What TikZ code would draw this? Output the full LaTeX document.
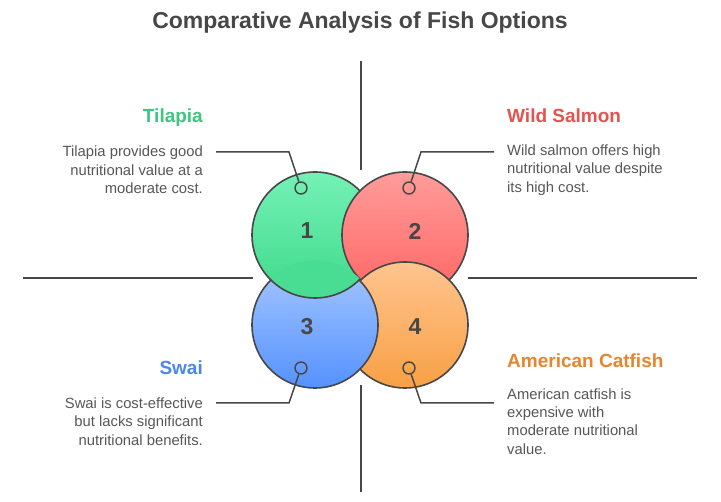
\documentclass[tikz,border=0pt]{standalone}
\usepackage{fontspec}
\setmainfont{Liberation Sans}
\usepackage{xcolor}
\usepackage{tikz}
\usetikzlibrary{positioning}

\definecolor{ink}{HTML}{474747}
\definecolor{txt}{HTML}{575757}
\definecolor{tilapiaC}{HTML}{3EC57F}
\definecolor{salmonC}{HTML}{E6524F}
\definecolor{swaiC}{HTML}{4A88EC}
\definecolor{catfishC}{HTML}{E6852F}
\definecolor{greenTop}{HTML}{74F1B6}
\definecolor{greenBot}{HTML}{3FD98A}
\definecolor{redTop}{HTML}{FF9C9A}
\definecolor{redBot}{HTML}{FF6563}
\definecolor{blueTop}{HTML}{A6C7FF}
\definecolor{blueBot}{HTML}{5592FF}
\definecolor{orangeTop}{HTML}{FFC48F}
\definecolor{orangeBot}{HTML}{F8A044}

\begin{document}
\begin{tikzpicture}[
      x=1pt, y=-1pt,
      every node/.style={font=\fontsize{14.8}{18.3}\selectfont, text=txt},
      ttl/.style={font=\fontsize{23}{27}\selectfont\bfseries, text=ink, inner sep=0pt},
      bubble/.style={circle, draw=ink, line width=1.6pt,
                     minimum size=126pt, inner sep=0pt},
      num/.style={font=\fontsize{23}{27}\selectfont\bfseries, text=ink, inner sep=0pt},
      pin/.style={circle, draw=ink, line width=1.4pt,
                  minimum size=12pt, inner sep=0pt},
      lead/.style={draw=ink, line width=1.5pt},
      axis/.style={draw=ink, line width=1.8pt},
      head/.style={font=\fontsize{19}{23}\selectfont\bfseries, inner sep=0pt},
      desc/.style={inner sep=0pt},
    ]
    \path[use as bounding box, fill=white] (0,0) rectangle (721,502);

    %% Title
    \node[ttl, anchor=base] (title) at (360,28.5) {Comparative Analysis of Fish Options};

    %% Quadrant axes
    \coordinate (axN1) at (361,61);
    \coordinate (axN2) at (361,170);
    \coordinate (axS1) at (361,385);
    \coordinate (axS2) at (361,492);
    \coordinate (axW1) at (23,278);
    \coordinate (axW2) at (253,278);
    \coordinate (axE1) at (468,278);
    \coordinate (axE2) at (697,278);
    \draw[axis] (axN1) -- (axN2);
    \draw[axis] (axS1) -- (axS2);
    \draw[axis] (axW1) -- (axW2);
    \draw[axis] (axE1) -- (axE2);

    %% Four bubbles (each one overlaps the next, round the ring)
    \node[bubble, top color=greenTop, bottom color=greenBot]   (tilapia) at (315,235) {};
    \node[bubble, top color=redTop, bottom color=redBot]       (salmon)  at (405,235) {};
    \node[bubble, top color=orangeTop, bottom color=orangeBot] (catfish) at (405,325) {};
    \node[bubble, top color=blueTop, bottom color=blueBot]     (swai)    at (315,325) {};
    %% tilapia lies over swai
    \begin{scope}
      \path[clip] (tilapia.center) ++(-70pt,0pt) rectangle (360,330);
      \path[clip] (swai.center) circle[radius=64.5pt];
      \fill[greenTop!18!greenBot] (tilapia.center) circle[radius=63pt];
      \draw[ink, line width=1.6pt] (tilapia.center) circle[radius=63pt];
    \end{scope}

    %% Numbers
    \node[num] (n1) at (307,231) {1};
    \node[num] (n2) at (415,231) {2};
    \node[num] (n3) at (307,327) {3};
    \node[num] (n4) at (415,327) {4};

    %% Pins and leaders
    \node[pin] (p1) at (301,188) {};
    \node[pin] (p2) at (409,188) {};
    \node[pin] (p3) at (301,368) {};
    \node[pin] (p4) at (409,368) {};

    \coordinate (k1) at (289,152);  \coordinate (e1) at (216,152);
    \coordinate (k2) at (421,152);  \coordinate (e2) at (494,152);
    \coordinate (k3) at (289,403);  \coordinate (e3) at (216,403);
    \coordinate (k4) at (421,403);  \coordinate (e4) at (494,403);

    \draw[lead] (p1) -- (k1) -- (e1);
    \draw[lead] (p2) -- (k2) -- (e2);
    \draw[lead] (p3) -- (k3) -- (e3);
    \draw[lead] (p4) -- (k4) -- (e4);

    %% Headings
    \node[head, text=tilapiaC, anchor=base east] (h1) at (203,123) {Tilapia};
    \node[head, text=salmonC, anchor=base west]  (h2) at (507,123) {Wild Salmon};
    \node[head, text=swaiC, anchor=base east]    (h3) at (203,375) {Swai};
    \node[head, text=catfishC, anchor=base west] (h4) at (507,368) {American Catfish};

    %% Descriptions
    \node[desc, align=right, anchor=east] (d1) at (203,170)
      {Tilapia provides good\\nutritional value at a\\moderate cost.};
    \node[desc, align=left, anchor=west] (d2) at (507,170)
      {Wild salmon offers high\\nutritional value despite\\its high cost.};
    \node[desc, align=right, anchor=east] (d3) at (203,421.5)
      {Swai is cost-effective\\but lacks significant\\nutritional benefits.};
    \node[desc, align=left, anchor=west] (d4) at (507,421.5)
      {American catfish is\\expensive with\\moderate nutritional\\value.};
  \end{tikzpicture}
\end{document}
